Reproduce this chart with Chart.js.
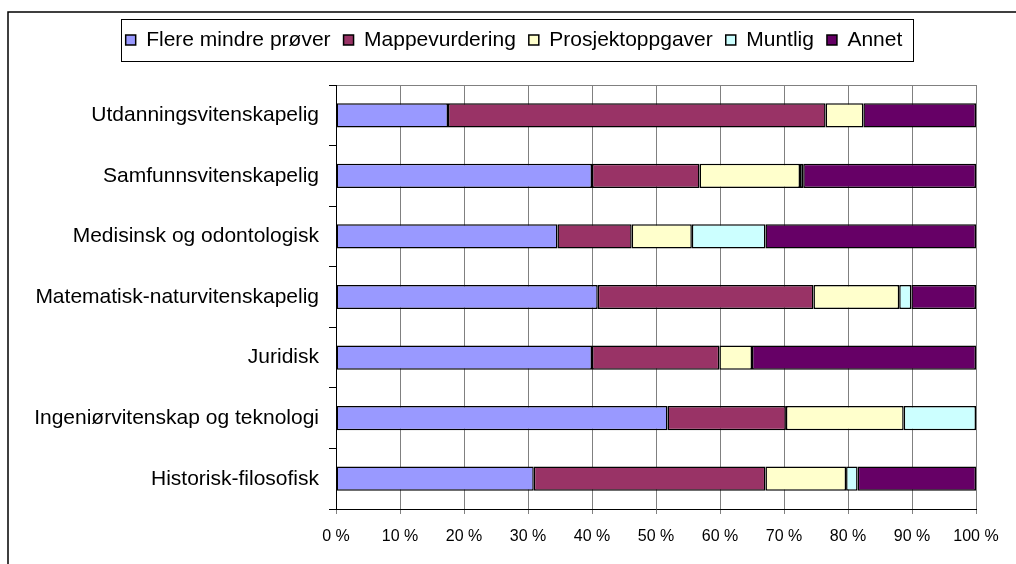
<!DOCTYPE html>
<html>
<head>
<meta charset="utf-8">
<script src="https://cdn.jsdelivr.net/npm/chart.js@4/dist/chart.umd.min.js"></script>
<style>
  html, body { margin: 0; padding: 0; background: #fff; }
  #wrap { width: 1016px; height: 564px; position: relative; }
</style>
</head>
<body>
<div id="wrap"><canvas id="c" width="1016" height="564"></canvas></div>
<script>
const categories = [
  'Utdanningsvitenskapelig',
  'Samfunnsvitenskapelig',
  'Medisinsk og odontologisk',
  'Matematisk-naturvitenskapelig',
  'Juridisk',
  'Ingeniørvitenskap og teknologi',
  'Historisk-filosofisk'
];
const seriesNames = ['Flere mindre prøver', 'Mappevurdering', 'Prosjektoppgaver', 'Muntlig', 'Annet'];
const flereMindre = [17.5, 40.0, 34.6, 40.9, 40.0, 51.8, 30.9];
const mappevurdering = [59.0, 16.8, 11.6, 33.7, 19.9, 18.5, 36.2];
const prosjektoppgaver = [5.9, 15.7, 9.4, 13.4, 5.1, 18.4, 12.6];
const muntlig = [0, 0.5, 11.5, 1.9, 0, 11.3, 1.8];
const annet = [17.6, 27.0, 32.9, 10.1, 35.0, 0, 18.5];
const tickValues = [0, 10, 20, 30, 40, 50, 60, 70, 80, 90, 100];

const colors = ['#9999FF', '#993366', '#FFFFCC', '#CCFFFF', '#660066'];
const seriesData = [flereMindre, mappevurdering, prosjektoppgaver, muntlig, annet];

const LABEL_FONT = "'Liberation Sans', Arial, sans-serif";
const TICK_FONT = "'Liberation Sans', Arial, sans-serif";

const PAD_TOP = 16.5;
const PLOT_TOP = 85;
const LEGEND_CENTER_X = 514;

const decor = {
  id: 'decor',
  beforeUpdate(chart) {
    const lg = chart.legend;
    if (lg && !lg._patched) {
      const orig = lg.fit;
      lg.fit = function () { orig.call(this); this.height = PLOT_TOP - PAD_TOP; };
      lg._patched = true;
    }
  },
  afterLayout(chart) {
    const lg = chart.legend;
    if (lg) {
      const shift = LEGEND_CENTER_X - (lg.left + lg.right) / 2;
      lg.left += shift;
      lg.right += shift;
    }
  },
  beforeDraw(chart) {
    const ctx = chart.ctx;
    ctx.save();
    ctx.fillStyle = '#ffffff';
    ctx.fillRect(0, 0, chart.width, chart.height);
    // outer frame (top and left)
    ctx.strokeStyle = '#000';
    ctx.lineWidth = 1.5;
    ctx.beginPath();
    ctx.moveTo(8, chart.height);
    ctx.lineTo(8, 12);
    ctx.lineTo(chart.width, 12);
    ctx.stroke();
    // legend border
    const hb = chart.legend && chart.legend.legendHitBoxes;
    if (hb && hb.length) {
      const first = hb[0], last = hb[hb.length - 1];
      const l = first.left - 5;
      const r = last.left + last.width + 10;
      const t = first.top - 10.5;
      const b = first.top + first.height + 10.5;
      ctx.strokeStyle = '#000';
      ctx.lineWidth = 1;
      ctx.strokeRect(Math.round(l) + 0.5, Math.round(t) + 0.5, Math.round(r - l), Math.round(b - t));
    }
    // top border of plot area
    const a = chart.chartArea;
    ctx.strokeStyle = '#808080';
    ctx.lineWidth = 1;
    ctx.beginPath();
    ctx.moveTo(a.left, Math.round(a.top) + 0.5);
    ctx.lineTo(a.right, Math.round(a.top) + 0.5);
    ctx.stroke();
    ctx.restore();
  }
};

new Chart(document.getElementById('c'), {
  type: 'bar',
  data: {
    labels: categories,
    datasets: seriesNames.map((name, i) => ({
      label: name,
      data: seriesData[i],
      backgroundColor: colors[i],
      borderColor: '#000000',
      borderWidth: 1.5,
      borderSkipped: false,
      barPercentage: 0.4,
      categoryPercentage: 1.0
    }))
  },
  options: {
    indexAxis: 'y',
    responsive: false,
    animation: false,
    devicePixelRatio: 1,
    layout: { padding: { left: 10, right: 40, top: PAD_TOP, bottom: 0 } },
    plugins: {
      tooltip: { enabled: false },
      legend: {
        display: true,
        position: 'top',
        align: 'center',
        labels: {
          color: '#000',
          font: { family: LABEL_FONT, size: 21 },
          boxWidth: 10,
          boxHeight: 10,
          padding: 13
        }
      }
    },
    scales: {
      x: {
        stacked: true,
        min: 0,
        max: 100,
        afterBuildTicks(scale) { scale.ticks = tickValues.map(v => ({ value: v })); },
        afterFit(scale) { scale.height = 55; },
        ticks: {
          color: '#000',
          font: { family: TICK_FONT, size: 16 },
          padding: 13,
          maxRotation: 0,
          autoSkip: false,
          callback: (v) => v + ' %'
        },
        grid: {
          color: '#808080',
          lineWidth: 1,
          drawTicks: true,
          tickLength: 5,
          tickColor: '#808080'
        },
        border: { display: true, color: '#000', width: 1 }
      },
      y: {
        stacked: true,
        afterFit(scale) { scale.width = 326; },
        ticks: {
          color: '#000',
          font: { family: LABEL_FONT, size: 21 },
          padding: 10,
          autoSkip: false
        },
        grid: {
          drawOnChartArea: false,
          drawTicks: true,
          tickLength: 7,
          tickColor: '#000',
          offset: true
        },
        border: { display: true, color: '#000', width: 1 }
      }
    }
  },
  plugins: [decor]
});
</script>
</body>
</html>
